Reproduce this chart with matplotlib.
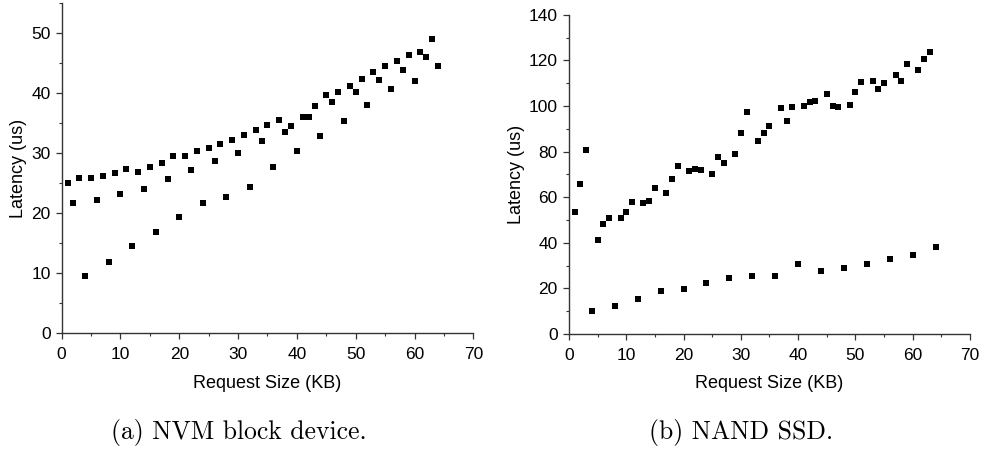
import matplotlib.pyplot as plt
from matplotlib.ticker import MultipleLocator

# Request sizes 1..64 KB
sizes = list(range(1, 65))

# NVM block device latency (us) per request size
nvm_latency = [
    25.0, 21.7, 25.9, 9.6, 25.9, 22.2, 26.2, 11.9,
    26.8, 23.3, 27.4, 14.6, 26.9, 24.0, 27.7, 16.9,
    28.4, 25.7, 29.5, 19.4, 29.6, 27.2, 30.3, 21.8,
    30.9, 28.7, 31.5, 22.7, 32.2, 30.1, 33.1, 24.4,
    33.8, 32.0, 34.7, 27.7, 35.5, 33.6, 34.6, 30.4,
    36.0, 36.0, 37.8, 32.9, 39.7, 38.5, 40.2, 35.4,
    41.2, 40.2, 42.3, 38.0, 43.5, 42.2, 44.5, 40.7,
    45.3, 43.8, 46.3, 42.0, 46.9, 46.1, 49.0, 44.5,
]

# NAND SSD latency (us) per request size
ssd_latency = [
    53.6, 65.8, 80.6, 10.2, 41.2, 48.1, 51.0, 12.3,
    51.0, 53.5, 57.9, 15.4, 57.3, 58.3, 64.0, 19.0,
    61.8, 68.1, 73.7, 19.6, 71.5, 72.4, 72.1, 22.2,
    70.0, 77.8, 74.9, 24.4, 79.1, 88.2, 97.2, 25.4,
    84.8, 88.0, 91.2, 25.6, 99.0, 93.4, 99.7, 30.6,
    100.1, 101.6, 102.0, 27.8, 105.3, 99.9, 99.4, 29.1,
    100.3, 106.0, 110.5, 30.7, 111.1, 107.5, 110.2, 33.0,
    113.5, 111.0, 118.4, 34.5, 115.9, 120.6, 123.5, 38.2,
]

plt.rcParams['font.family'] = ['Liberation Sans', 'DejaVu Sans']

fig = plt.figure(figsize=(9.82, 4.5), dpi=100)
ax1 = fig.add_axes([0.0628, 0.259, 0.4192, 0.734])
ax2 = fig.add_axes([0.5794, 0.258, 0.4084, 0.709])


def draw_panel(ax, latency, ymax, ymajor, yminor):
    ax.scatter(sizes, latency, marker='s', s=24, color='black',
               linewidths=0, zorder=3)
    ax.set_xlim(0, 70)
    ax.set_ylim(0, ymax)
    ax.xaxis.set_major_locator(MultipleLocator(10))
    ax.xaxis.set_minor_locator(MultipleLocator(5))
    ax.yaxis.set_major_locator(MultipleLocator(ymajor))
    ax.yaxis.set_minor_locator(MultipleLocator(yminor))
    for side in ('top', 'right'):
        ax.spines[side].set_visible(False)
    for side in ('left', 'bottom'):
        ax.spines[side].set_color('#333333')
        ax.spines[side].set_linewidth(1.0)
    ax.tick_params(which='major', direction='out', length=4, width=0.9,
                   color='#333333', labelsize=12.5)
    ax.tick_params(which='minor', direction='out', length=2.5, width=0.8,
                   color='#333333')
    ax.tick_params(axis='x', which='major', pad=6)
    ax.tick_params(axis='y', which='major', pad=4)
    ax.set_xlabel('Request Size (KB)', fontsize=13, labelpad=9)
    ax.set_ylabel('Latency (us)', fontsize=13, labelpad=3)


draw_panel(ax1, nvm_latency, 55, 10, 5)
draw_panel(ax2, ssd_latency, 140, 20, 10)

fig.text(238.5 / 982, 1 - 432 / 450, '(a) NVM block device.', family='cmr10',
         fontsize=18.5, ha='center', va='center')
fig.text(741.5 / 982, 1 - 432 / 450, '(b) NAND SSD.', family='cmr10',
         fontsize=18.5, ha='center', va='center')

fig.savefig('out.png', dpi=100)
plt.close(fig)
